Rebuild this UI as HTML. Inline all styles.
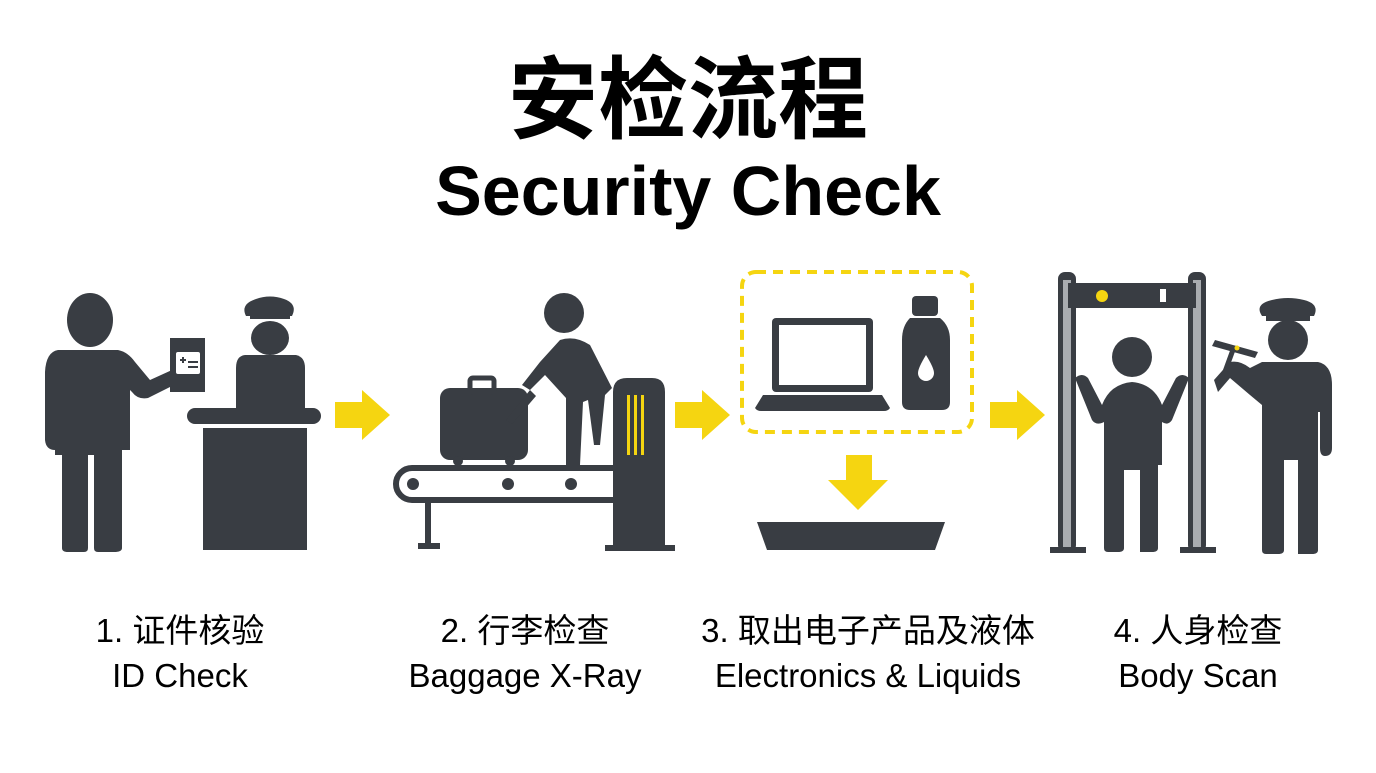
<!DOCTYPE html>
<html><head><meta charset="utf-8"><style>
body{margin:0;width:1376px;height:768px;background:#fff;overflow:hidden;font-family:"Liberation Sans","Noto Sans CJK SC",sans-serif}
</style></head><body>
<svg width="1376" height="768" viewBox="0 0 1376 768" xmlns="http://www.w3.org/2000/svg">
<g font-family="Liberation Sans, Noto Sans CJK SC, sans-serif" text-anchor="middle" fill="#000">
<text x="688" y="131" font-size="90" font-weight="bold">安检流程</text>
<text x="688" y="215" font-size="70" font-weight="bold">Security Check</text>
<g font-size="33">
<text x="180" y="642">1. 证件核验</text><text x="180" y="687">ID Check</text>
<text x="525" y="642">2. 行李检查</text><text x="525" y="687">Baggage X-Ray</text>
<text x="868" y="642">3. 取出电子产品及液体</text><text x="868" y="687">Electronics &amp; Liquids</text>
<text x="1198" y="642">4. 人身检查</text><text x="1198" y="687">Body Scan</text>
</g></g>
<g fill="#393d43">
<ellipse cx="90" cy="320" rx="23" ry="27"/>
<path d="M58 350 H118 Q128 352 135 362 L150 380 L172 370 L176 384 L148 398 Q138 400 132 392 L130 390 V450 H122 V548 Q122 552 114 552 H98 Q94 552 94 548 V455 H88 V548 Q88 552 84 552 H68 Q62 552 62 548 V455 H55 V450 Q46 450 45 440 V372 Q46 352 58 350Z"/>
<rect x="170" y="338" width="35" height="54"/>
<rect x="176" y="352" width="24" height="22" rx="2" fill="#fff"/>
<path d="M180 360h6M183 357v6M188 362h10M188 367h10" stroke="#393d43" stroke-width="2"/>
<path d="M246 316 Q240 304 256 299 Q270 294 284 299 Q298 304 292 316Z"/><rect x="250" y="314" width="40" height="5"/>
<ellipse cx="270" cy="338" rx="19" ry="17"/>
<path d="M245 355 H296 Q305 357 305 368 V408 H236 V368 Q236 356 245 355Z"/>
<rect x="187" y="408" width="134" height="16" rx="8"/>
<rect x="203" y="428" width="104" height="122"/>
<rect x="440" y="388" width="88" height="72" rx="10"/>
<rect x="470" y="378" width="24" height="14" rx="3" fill="none" stroke="#393d43" stroke-width="5"/>
<circle cx="458" cy="461" r="5"/><circle cx="510" cy="461" r="5"/>
<rect x="396" y="468" width="258" height="32" rx="16" fill="none" stroke="#393d43" stroke-width="6"/>
<circle cx="413" cy="484" r="6"/><circle cx="508" cy="484" r="6"/><circle cx="571" cy="484" r="6"/><circle cx="636" cy="484" r="6"/>
<rect x="425" y="500" width="6" height="45"/><rect x="418" y="543" width="22" height="6"/>
<path d="M613 392 Q613 378 627 378 H652 Q665 378 665 392 V545 H675 V551 H605 V545 H613Z"/>
<rect x="627" y="395" width="3" height="60" fill="#f5d511"/><rect x="634" y="395" width="3" height="60" fill="#f5d511"/><rect x="641" y="395" width="3" height="60" fill="#f5d511"/>
<circle cx="564" cy="313" r="20"/>
<path d="M560 340 Q575 335 590 345 L612 388 L605 395 L600 445 L594 445 L588 400 L583 402 L580 465 L566 465 L566 398 L545 375 L530 390 L522 385 L540 362Z"/>
<path d="M530 390 L506 420 L512 424 L536 396Z"/>
<rect x="772" y="318" width="101" height="74" rx="4"/><rect x="779" y="325" width="87" height="60" fill="#fff"/>
<path d="M763 395 H882 L890 408 Q888 411 884 411 H761 Q757 411 755 408Z"/>
<rect x="912" y="296" width="26" height="20" rx="4"/>
<path d="M910 318 H940 Q950 326 950 340 V402 Q950 410 942 410 H910 Q902 410 902 402 V340 Q902 326 910 318Z"/>
<path d="M926 355 Q918 368 918 373 A8 8 0 0 0 934 373 Q934 368 926 355Z" fill="#fff"/>
<path d="M757 522 H945 L935 550 H767Z"/>
<rect x="1058" y="272" width="18" height="280" rx="7"/><rect x="1188" y="272" width="18" height="280" rx="7"/>
<rect x="1063" y="280" width="8" height="268" fill="#a9acb0"/><rect x="1193" y="280" width="8" height="268" fill="#a9acb0"/>
<rect x="1068" y="283" width="128" height="25"/>
<circle cx="1102" cy="296" r="6" fill="#f5d511"/><rect x="1160" y="289" width="6" height="13" fill="#fff"/>
<rect x="1050" y="547" width="36" height="6"/><rect x="1180" y="547" width="36" height="6"/>
<circle cx="1132" cy="357" r="20"/>
<path d="M1075 378 Q1082 372 1088 378 L1102 405 Q1110 384 1132 382 Q1154 384 1162 405 L1176 378 Q1182 372 1189 378 L1172 420 Q1168 426 1162 422 V465 H1158 V548 Q1158 552 1152 552 H1140 V470 H1124 V548 Q1124 552 1118 552 H1108 Q1104 552 1104 548 V465 V422 Q1096 426 1092 420Z"/>
<path d="M1262 316 Q1254 304 1272 300 Q1288 296 1304 300 Q1320 304 1314 316Z"/><rect x="1266" y="316" width="44" height="5"/>
<circle cx="1288" cy="340" r="20"/>
<path d="M1262 362 H1318 Q1332 365 1332 385 V448 Q1332 456 1325 456 Q1320 456 1320 448 V412 L1318 412 V550 Q1318 554 1312 554 H1298 V460 H1284 V550 Q1284 554 1278 554 H1266 Q1262 554 1262 550 V405 L1250 395 L1230 378 L1218 392 L1214 380 L1230 362 Q1240 360 1250 368Z"/>
<path d="M1215 340 L1258 352 L1255 358 L1212 346Z"/><rect x="1226" y="348" width="5" height="28" transform="rotate(20 1228 362)"/>
<circle cx="1237" cy="348" r="2.5" fill="#f5d511"/>
</g>
<g fill="#f5d511">
<path d="M335 402 H362 V390 L390 415 L362 440 V428 H335Z"/>
<path d="M675 402 H702 V390 L730 415 L702 440 V428 H675Z"/>
<path d="M990 402 H1017 V390 L1045 415 L1017 440 V428 H990Z"/>
<path d="M846 455 H872 V480 H888 L858 510 L828 480 H846Z"/>
</g>
<rect x="742" y="272" width="230" height="160" rx="14" fill="none" stroke="#f5d511" stroke-width="4" stroke-dasharray="10 7"/>
</svg>
</body></html>
